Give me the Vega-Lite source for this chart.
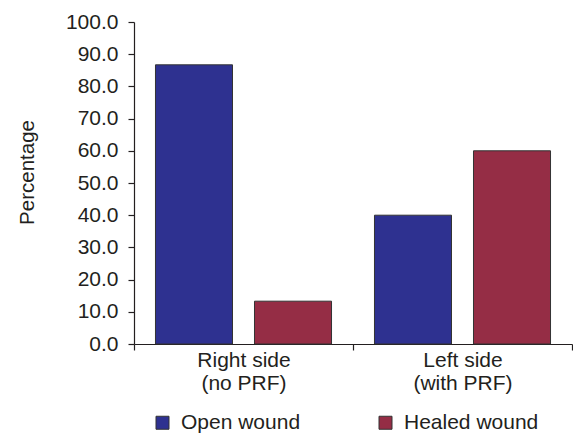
{
  "$schema": "https://vega.github.io/schema/vega-lite/v6.json",
  "width": 438,
  "height": 322,
  "autosize": "none",
  "padding": {"left": 134, "top": 22, "right": 1, "bottom": 90},
  "background": "white",
  "config": {
    "view": {"stroke": null},
    "font": "Liberation Sans",
    "axis": {"domainColor": "#231f20", "tickColor": "#231f20", "labelColor": "#231f20", "titleColor": "#231f20", "grid": false, "domainWidth": 1.2, "tickWidth": 1.2}
  },
  "data": {
    "values": [
      {"side": "Right side\n(no PRF)", "status": "Open wound", "pct": 86.7},
      {"side": "Right side\n(no PRF)", "status": "Healed wound", "pct": 13.3},
      {"side": "Left side\n(with PRF)", "status": "Open wound", "pct": 40.0},
      {"side": "Left side\n(with PRF)", "status": "Healed wound", "pct": 60.0}
    ]
  },
  "mark": {"type": "bar", "stroke": "#333333", "strokeWidth": 1},
  "encoding": {
    "x": {
      "field": "side",
      "type": "nominal",
      "sort": ["Right side\n(no PRF)", "Left side\n(with PRF)"],
      "scale": {"paddingInner": 0, "paddingOuter": 0},
      "axis": {
        "title": null,
        "labelAngle": 0,
        "labelFontSize": 21,
        "labelExpr": "split(datum.label, '\\n')",
        "labelLineHeight": 23,
        "tickBand": "extent",
        "tickSize": 6,
        "labelPadding": -1
      }
    },
    "xOffset": {
      "field": "status",
      "type": "nominal",
      "sort": ["Open wound", "Healed wound"],
      "scale": {"paddingInner": 0.222, "paddingOuter": 0.217}
    },
    "y": {
      "field": "pct",
      "type": "quantitative",
      "scale": {"domain": [0, 100], "nice": false},
      "axis": {
        "title": "Percentage",
        "titleFontSize": 20.5,
        "titleFontWeight": "normal",
        "titlePadding": 28,
        "titleY": 150,
        "values": [0, 10, 20, 30, 40, 50, 60, 70, 80, 90, 100],
        "format": ".1f",
        "labelFontSize": 21,
        "tickSize": 6,
        "labelPadding": 10
      }
    },
    "color": {
      "field": "status",
      "type": "nominal",
      "sort": ["Open wound", "Healed wound"],
      "scale": {"domain": ["Open wound", "Healed wound"], "range": ["#2e3190", "#952d45"]},
      "legend": {
        "title": null,
        "orient": "none",
        "legendX": 18,
        "legendY": 390,
        "direction": "horizontal",
        "columns": 2,
        "symbolType": "square",
        "symbolSize": 169,
        "symbolStrokeColor": "#333333",
        "symbolStrokeWidth": 1,
        "symbolOpacity": 1,
        "labelFontSize": 21,
        "labelColor": "#231f20",
        "labelOffset": 8,
        "columnPadding": 74
      }
    }
  }
}
